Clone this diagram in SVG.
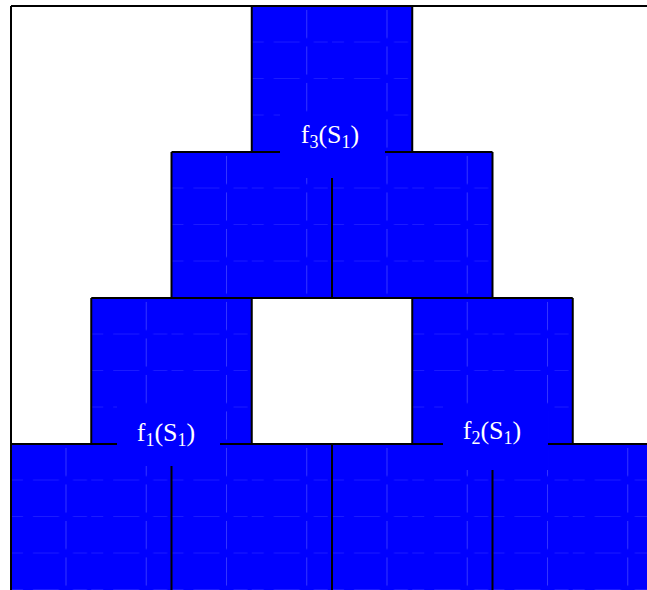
<svg xmlns="http://www.w3.org/2000/svg" width="647" height="590" viewBox="0 0 647 590">
<style>
.fill{fill:#0000ff}
.tex{fill:url(#grid)}
.edge{stroke:#000;stroke-width:2;fill:none}
.lblbox{fill:#0000ff}
.lbl{font-family:"Liberation Serif","Times New Roman",serif;font-size:26px;fill:#ffffff;text-anchor:middle}
.sub{font-size:18px}
</style>
<defs>
<pattern id="grid" patternUnits="userSpaceOnUse" x="11" y="6" width="80.25" height="36.5">
<path d="M0 36.5 H12 M22 36.5 H48 M62 36.5 H76 M55 4 V32" stroke="#3535ff" stroke-width="1" fill="none"/>
</pattern>
</defs>
<rect width="647" height="590" fill="#ffffff"/>
<g id="node-top">
<rect class="fill" x="251.75" y="6" width="160.5" height="146"/>
<rect class="tex" x="251.75" y="6" width="160.5" height="146"/>
</g>
<g id="node-row1">
<rect class="fill" x="171.5" y="152" width="321" height="146"/>
<rect class="tex" x="171.5" y="152" width="321" height="146"/>
</g>
<g id="node-row2-left">
<rect class="fill" x="91.25" y="298" width="160.5" height="146"/>
<rect class="tex" x="91.25" y="298" width="160.5" height="146"/>
</g>
<g id="node-row2-right">
<rect class="fill" x="412.25" y="298" width="160.5" height="146"/>
<rect class="tex" x="412.25" y="298" width="160.5" height="146"/>
</g>
<g id="node-row3">
<rect class="fill" x="11" y="444" width="642" height="146"/>
<rect class="tex" x="11" y="444" width="642" height="146"/>
</g>
<g id="connectors">
<path class="edge" d="M11 6 H647 M11 6 V590"/>
<path class="edge" d="M251.75 6 V152 M412.25 6 V152"/>
<path class="edge" d="M171.5 152 H492.5 M171.5 152 V298 M492.5 152 V298 M332 152 V298"/>
<path class="edge" d="M91.25 298 H572.75 M91.25 298 V444 M251.75 298 V444 M412.25 298 V444 M572.75 298 V444"/>
<path class="edge" d="M11 444 H647 M171.5 444 V590 M332 444 V590 M492.5 444 V590"/>
</g>
<g id="label-f3">
<rect class="lblbox" x="280" y="112" width="105" height="66"/>
<text class="lbl" x="330" y="143">f<tspan class="sub" dy="5">3</tspan><tspan dy="-5">(S</tspan><tspan class="sub" dy="5">1</tspan><tspan dy="-5">)</tspan></text>
</g>
<g id="label-f1">
<rect class="lblbox" x="117" y="404" width="103" height="62"/>
<text class="lbl" x="166" y="441">f<tspan class="sub" dy="5">1</tspan><tspan dy="-5">(S</tspan><tspan class="sub" dy="5">1</tspan><tspan dy="-5">)</tspan></text>
</g>
<g id="label-f2">
<rect class="lblbox" x="443" y="404" width="105" height="66"/>
<text class="lbl" x="492" y="439">f<tspan class="sub" dy="5">2</tspan><tspan dy="-5">(S</tspan><tspan class="sub" dy="5">1</tspan><tspan dy="-5">)</tspan></text>
</g>
</svg>
